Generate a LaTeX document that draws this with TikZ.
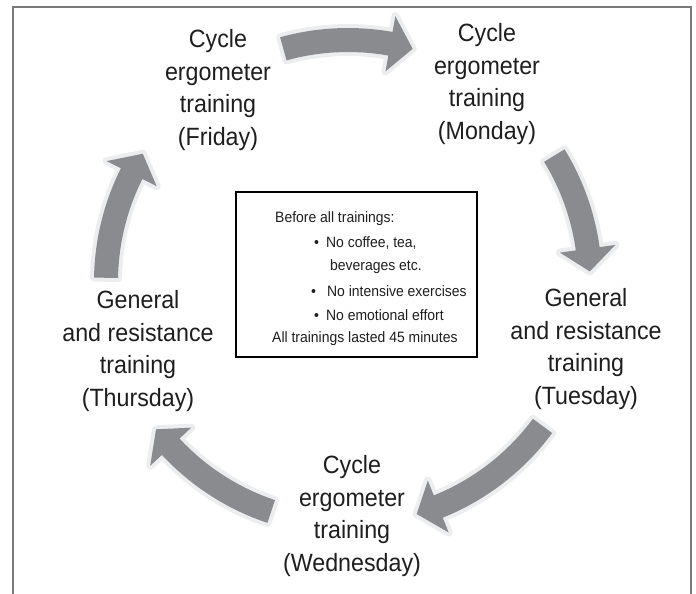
\documentclass[tikz,border=0pt]{standalone}
\usepackage{fontspec}
\setmainfont[FakeStretch=0.93]{Liberation Sans}
\definecolor{arrowgray}{HTML}{8A8B8E}
\definecolor{halo}{HTML}{ECEDEE}
\definecolor{framegray}{HTML}{7A7A7A}
\definecolor{txt}{HTML}{1E1E1E}
\tikzset{
  daylabel/.style={align=center, text=txt, font=\fontsize{25}{32.5}\selectfont, inner sep=0pt},
  boxline/.style={anchor=west, text=txt, font=\fontsize{15}{17}\selectfont, inner sep=0pt},
  cyclearrow/.style={fill=arrowgray, preaction={draw=halo, line width=8pt, line join=round}},
}
\newcommand{\cycarrow}[3]{% tail angle, tip angle, name
  \pgfmathsetmacro{\bb}{#2+5.4}
  \path[cyclearrow] (#1:254) arc[start angle=#1, end angle=\bb, radius=254]
    -- (\bb:270) -- (#2:242) -- (\bb:214) -- (\bb:230)
    arc[start angle=\bb, end angle=#1, radius=230] -- cycle;
  \coordinate (#3) at (#2:242);
}
\begin{document}
\begin{tikzpicture}[x=1pt,y=1pt]
\useasboundingbox (0,0) rectangle (696,-594);
% frame (open at bottom)
\draw[framegray, line width=2pt] (13,-594) -- (13,-7) -- (691,-7) -- (691,-594);
% circle centre
\coordinate (C) at (348,-282);
\begin{scope}[shift={(C)}]
  \cycarrow{105.5}{74.5}{tipA}
  \cycarrow{31.5}{2.5}{tipB}
  \cycarrow{-36.5}{-73.5}{tipC}
  \cycarrow{-108.5}{-142.5}{tipD}
  \cycarrow{179}{148}{tipE}
\end{scope}
% day labels
\node[daylabel] (fri) at (218,-90) {Cycle\\ergometer\\training\\(Friday)};
\node[daylabel] (mon) at (487,-84) {Cycle\\ergometer\\training\\(Monday)};
\node[daylabel] (tue) at (586,-349) {General\\and resistance\\training\\(Tuesday)};
\node[daylabel] (thu) at (138,-351) {General\\and resistance\\training\\(Thursday)};
\node[daylabel] (wed) at (352,-516) {Cycle\\ergometer\\training\\(Wednesday)};
% central box
\draw[line width=2pt, black] (236,-192) rectangle (477,-357);
\node[boxline] (b1) at (275,-219) {Before all trainings:};
\node[boxline] (b2) at (314,-243) {•\hspace{7pt}No coffee, tea,};
\node[boxline] (b3) at (330,-267) {beverages etc.};
\node[boxline] (b4) at (311,-291) {•\hspace{11pt}No intensive exercises};
\node[boxline] (b5) at (314,-315) {•\hspace{7pt}No emotional effort};
\node[boxline] (b6) at (272,-339) {All trainings lasted 45 minutes};
\end{tikzpicture}
\end{document}
